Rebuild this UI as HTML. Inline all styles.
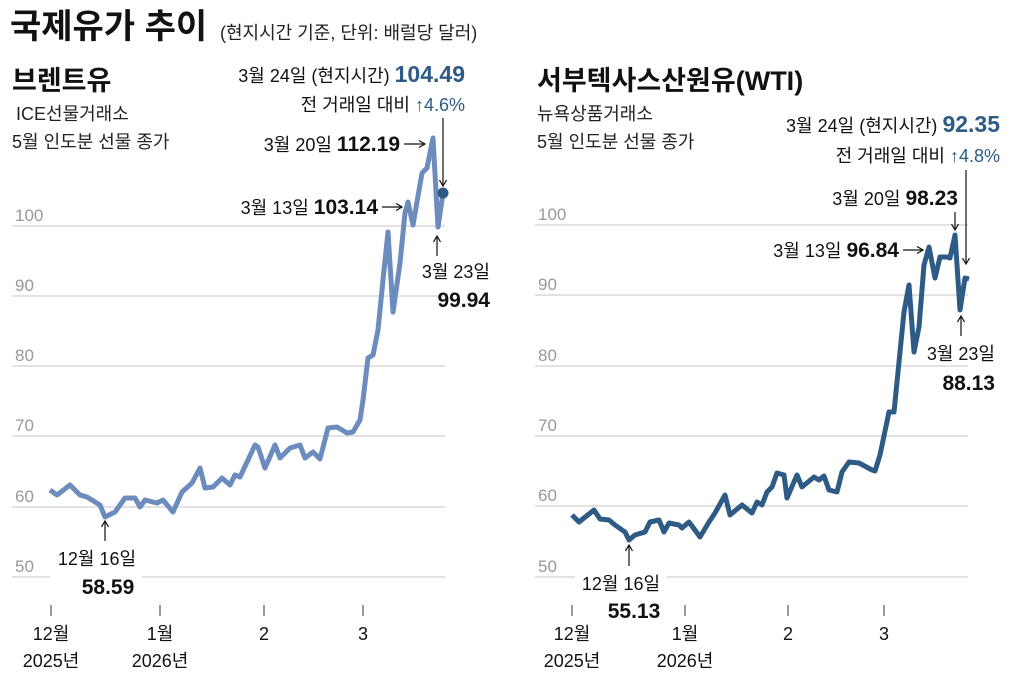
<!DOCTYPE html>
<html><head><meta charset="utf-8"><style>
html,body{margin:0;padding:0;background:#fff;}
svg text{font-family:"Liberation Sans","Noto Sans CJK KR",sans-serif;}
</style></head><body>
<svg width="1024" height="685" viewBox="0 0 1024 685" xmlns="http://www.w3.org/2000/svg">
<defs>
<marker id="ah" markerWidth="8" markerHeight="8" refX="7" refY="4" orient="auto" markerUnits="userSpaceOnUse">
<path d="M1,0.5 L7,4 L1,7.5" fill="none" stroke="#111" stroke-width="1.2"/></marker>
</defs>
<rect width="1024" height="685" fill="#fff"/>
<text x="10" y="38" font-size="34" font-weight="bold" fill="#111">국제유가 추이</text>
<text x="220" y="39" font-size="18" fill="#222">(현지시간 기준, 단위: 배럴당 달러)</text>

<!-- LEFT -->
<text x="12" y="90" font-size="27" font-weight="bold" fill="#111">브렌트유</text>
<text x="16" y="120" font-size="18" fill="#222">ICE선물거래소</text>
<text x="12" y="148" font-size="18" fill="#222">5월 인도분 선물 종가</text>
<g stroke="#d0d0d0" stroke-width="1.2">
<line x1="12" y1="226" x2="445" y2="226"/><line x1="12" y1="296" x2="445" y2="296"/>
<line x1="12" y1="366" x2="445" y2="366"/><line x1="12" y1="436" x2="445" y2="436"/>
<line x1="12" y1="507" x2="445" y2="507"/><line x1="12" y1="577" x2="445" y2="577"/>
</g>
<g font-size="17" fill="#999">
<text x="15" y="221">100</text><text x="15" y="291">90</text><text x="15" y="361">80</text>
<text x="15" y="431">70</text><text x="15" y="502">60</text><text x="15" y="572">50</text>
</g>
<polyline fill="none" stroke="#6b8cbd" stroke-width="5" stroke-linejoin="round" points="50,490 57,495 70,485 80,495 87,497 100,505 105,517 115,512 125,498 135,498 140,507 145,500 157,503 163,500 173,512 182,492 192,483 200,468 205,488 213,487 222,478 230,485 235,475 240,477 248,460 255,445 258,447 265,468 275,445 280,458 290,448 300,445 305,458 313,452 320,459 328,428 337,427 347,433 353,432 360,420 363,400 368,358 373,355 378,330 383,280 388,232 393,312 400,263 405,213 408,202 413,225 422,173 427,168 433,138 438,227 443,193"/>
<circle cx="443" cy="193" r="5.5" fill="#2e5b86"/>
<rect x="50" y="545" width="92" height="52" fill="#fff"/>
<text x="465" y="82" font-size="18" fill="#111" text-anchor="end">3월 24일 (현지시간) <tspan font-size="23" font-weight="bold" fill="#2e5b86">104.49</tspan></text>
<text x="465" y="111" font-size="18" fill="#111" text-anchor="end">전 거래일 대비 <tspan fill="#2e5b86">↑4.6%</tspan></text>
<line x1="443" y1="118" x2="443" y2="186" stroke="#111" stroke-width="1.2" marker-end="url(#ah)"/>
<text x="400" y="151" font-size="18" fill="#111" text-anchor="end">3월 20일 <tspan font-size="21" font-weight="bold">112.19</tspan></text>
<line x1="404" y1="144" x2="425" y2="144" stroke="#111" stroke-width="1.2" marker-end="url(#ah)"/>
<text x="378" y="214" font-size="18" fill="#111" text-anchor="end">3월 13일 <tspan font-size="21" font-weight="bold">103.14</tspan></text>
<line x1="382" y1="207" x2="402" y2="207" stroke="#111" stroke-width="1.2" marker-end="url(#ah)"/>
<line x1="437" y1="256" x2="437" y2="236" stroke="#111" stroke-width="1.2" marker-end="url(#ah)"/>
<text x="490" y="278" font-size="18" fill="#111" text-anchor="end">3월 23일</text>
<text x="490" y="307" font-size="21" font-weight="bold" fill="#111" text-anchor="end">99.94</text>
<line x1="105" y1="541" x2="105" y2="521" stroke="#111" stroke-width="1.2" marker-end="url(#ah)"/>
<text x="97" y="565" font-size="18" fill="#111" text-anchor="middle">12월 16일</text>
<text x="108" y="594" font-size="21" font-weight="bold" fill="#111" text-anchor="middle">58.59</text>
<g stroke="#555" stroke-width="1.2">
<line x1="51" y1="605" x2="51" y2="616"/><line x1="160" y1="605" x2="160" y2="616"/>
<line x1="264" y1="605" x2="264" y2="616"/><line x1="363" y1="605" x2="363" y2="616"/>
</g>
<g font-size="18" fill="#111" text-anchor="middle">
<text x="51" y="640">12월</text><text x="51" y="667">2025년</text>
<text x="160" y="640">1월</text><text x="160" y="667">2026년</text>
<text x="264" y="640">2</text><text x="363" y="640">3</text>
</g>

<!-- RIGHT -->
<text x="537" y="90" font-size="27" font-weight="bold" fill="#111">서부텍사스산원유(WTI)</text>
<text x="537" y="120" font-size="18" fill="#222">뉴욕상품거래소</text>
<text x="537" y="148" font-size="18" fill="#222">5월 인도분 선물 종가</text>
<g stroke="#d0d0d0" stroke-width="1.2">
<line x1="535" y1="225" x2="968" y2="225"/><line x1="535" y1="295" x2="968" y2="295"/>
<line x1="535" y1="366" x2="968" y2="366"/><line x1="535" y1="436" x2="968" y2="436"/>
<line x1="535" y1="506" x2="968" y2="506"/><line x1="535" y1="577" x2="968" y2="577"/>
</g>
<g font-size="17" fill="#999">
<text x="538" y="220">100</text><text x="538" y="290">90</text><text x="538" y="361">80</text>
<text x="538" y="431">70</text><text x="538" y="501">60</text><text x="538" y="572">50</text>
</g>
<polyline fill="none" stroke="#2e5b86" stroke-width="5" stroke-linejoin="round" points="572,515 579,522 594,510 600,519 609,520 615,525 625,532 629,540 635,535 645,532 650,522 659,520 664,532 669,523 679,525 682,528 689,522 700,537 709,522 715,513 725,495 730,515 742,505 752,513 757,502 762,505 767,492 772,487 777,473 784,475 787,498 797,475 802,487 814,477 819,480 824,476 829,490 837,492 842,472 849,462 859,463 872,470 875,471 880,455 889,412 894,412 904,312 909,285 914,352 919,327 924,265 929,247 935,278 940,257 947,257 950,258 955,235 960,310 965,278 969,279"/>
<rect x="575" y="568" width="92" height="54" fill="#fff"/>
<text x="1000" y="132" font-size="18" fill="#111" text-anchor="end">3월 24일 (현지시간) <tspan font-size="23" font-weight="bold" fill="#2e5b86">92.35</tspan></text>
<text x="1000" y="162" font-size="18" fill="#111" text-anchor="end">전 거래일 대비 <tspan fill="#2e5b86">↑4.8%</tspan></text>
<line x1="966" y1="170" x2="966" y2="264" stroke="#111" stroke-width="1.2" marker-end="url(#ah)"/>
<text x="958" y="205" font-size="18" fill="#111" text-anchor="end">3월 20일 <tspan font-size="21" font-weight="bold">98.23</tspan></text>
<line x1="955" y1="212" x2="955" y2="230" stroke="#111" stroke-width="1.2" marker-end="url(#ah)"/>
<text x="899" y="257" font-size="18" fill="#111" text-anchor="end">3월 13일 <tspan font-size="21" font-weight="bold">96.84</tspan></text>
<line x1="903" y1="250" x2="923" y2="250" stroke="#111" stroke-width="1.2" marker-end="url(#ah)"/>
<line x1="961" y1="336" x2="961" y2="316" stroke="#111" stroke-width="1.2" marker-end="url(#ah)"/>
<text x="995" y="360" font-size="18" fill="#111" text-anchor="end">3월 23일</text>
<text x="995" y="390" font-size="21" font-weight="bold" fill="#111" text-anchor="end">88.13</text>
<line x1="629" y1="566" x2="629" y2="545" stroke="#111" stroke-width="1.2" marker-end="url(#ah)"/>
<text x="621" y="590" font-size="18" fill="#111" text-anchor="middle">12월 16일</text>
<text x="634" y="618" font-size="21" font-weight="bold" fill="#111" text-anchor="middle">55.13</text>
<g stroke="#555" stroke-width="1.2">
<line x1="572" y1="605" x2="572" y2="616"/><line x1="685" y1="605" x2="685" y2="616"/>
<line x1="788" y1="605" x2="788" y2="616"/><line x1="884" y1="605" x2="884" y2="616"/>
</g>
<g font-size="18" fill="#111" text-anchor="middle">
<text x="572" y="640">12월</text><text x="572" y="667">2025년</text>
<text x="685" y="640">1월</text><text x="685" y="667">2026년</text>
<text x="788" y="640">2</text><text x="884" y="640">3</text>
</g>
</svg>
</body></html>
